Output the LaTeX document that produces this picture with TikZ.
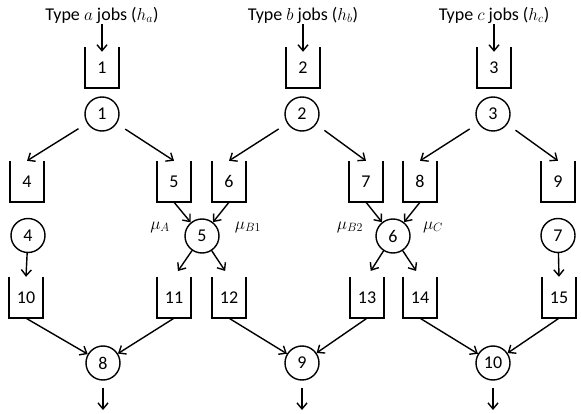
\documentclass[tikz,border=0pt]{standalone}
\usepackage{fontspec}
\setmainfont{Carlito}
\usetikzlibrary{arrows.meta}
\begin{document}
\begin{tikzpicture}[x=1pt,y=-1pt,
  txt/.style={font=\fontsize{18}{21}\selectfont},
  buf/.style={txt, minimum width=34pt, minimum height=41pt, inner sep=0pt},
  srv/.style={txt, circle, draw, line width=1.4pt, minimum size=34pt, inner sep=0pt},
  lbl/.style={txt, inner sep=1pt},
  arr/.style={-{Straight Barb[length=6pt,width=10pt]}, line width=1.4pt},
  bufline/.style={line width=1.5pt}]
\useasboundingbox (0,0) rectangle (581,414);
% titles
\node[lbl] (ta) at (102,15) {Type $a$ jobs ($h_a$)};
\node[lbl] (tb) at (303,15) {Type $b$ jobs ($h_b$)};
\node[lbl] (tc) at (494,15) {Type $c$ jobs ($h_c$)};
% buffers
\node[buf] (b1) at (102,67.5) {1};
\node[buf] (b2) at (303,67.5) {2};
\node[buf] (b3) at (494,67.5) {3};
\node[buf] (b4) at (27,181.5) {4};
\node[buf] (b5) at (174,181.5) {5};
\node[buf] (b6) at (229,181.5) {6};
\node[buf] (b7) at (366,181.5) {7};
\node[buf] (b8) at (420,181.5) {8};
\node[buf] (b9) at (558,181.5) {9};
\node[buf] (b10) at (26,297.5) {10};
\node[buf] (b11) at (174,297.5) {11};
\node[buf] (b12) at (229,297.5) {12};
\node[buf] (b13) at (367,297.5) {13};
\node[buf] (b14) at (420,297.5) {14};
\node[buf] (b15) at (559,297.5) {15};
\foreach \b in {b1,b2,b3,b4,b5,b6,b7,b8,b9,b10,b11,b12,b13,b14,b15}
  \draw[bufline] (\b.north west) -- (\b.south west) -- (\b.south east) -- (\b.north east);
% servers
\node[srv] (s1) at (102,114) {1};
\node[srv] (s2) at (302,114) {2};
\node[srv] (s3) at (493,114) {3};
\node[srv] (s4) at (28,235.5) {4};
\node[srv] (s5) at (202,236) {5};
\node[srv] (s6) at (393,236) {6};
\node[srv] (s7) at (558,235.5) {7};
\node[srv] (s8) at (103,363) {8};
\node[srv] (s9) at (302,363) {9};
\node[srv] (s10) at (493,363) {10};
% rate labels
\node[lbl] (mA) at (160,227) {$\mu_A$};
\node[lbl] (mB1) at (248,227) {$\mu_{B1}$};
\node[lbl] (mB2) at (350,227) {$\mu_{B2}$};
\node[lbl] (mC) at (433,227) {$\mu_C$};
% output coordinates
\coordinate (o8) at (103,410);
\coordinate (o9) at (302,410);
\coordinate (o10) at (493,410);
% arrows
\draw[arr] (ta.south) -- ([yshift=-5pt]b1.north);
\draw[arr] (tb.south) -- ([yshift=-5pt]b2.north);
\draw[arr] (tc.south) -- ([yshift=-5pt]b3.north);
\draw[arr, shorten <=10pt] (s1) -- (b4.north);
\draw[arr, shorten <=10pt] (s1) -- (b5.north);
\draw[arr, shorten <=10pt] (s2) -- (b6.north);
\draw[arr, shorten <=10pt] (s2) -- (b7.north);
\draw[arr, shorten <=10pt] (s3) -- (b8.north);
\draw[arr, shorten <=10pt] (s3) -- (b9.north);
\draw[arr] (b5.south) -- (s5);
\draw[arr] (b6.south) -- (s5);
\draw[arr] (b7.south) -- (s6);
\draw[arr] (b8.south) -- (s6);
\draw[arr] (s4) -- (b10.north);
\draw[arr] (s7) -- (b15.north);
\draw[arr, shorten >=7pt] (s5) -- (b11.north);
\draw[arr, shorten >=7pt] (s5) -- (b12.north);
\draw[arr, shorten >=7pt] (s6) -- (b13.north);
\draw[arr, shorten >=7pt] (s6) -- (b14.north);
\draw[arr] (b10.south) -- (s8);
\draw[arr] (b11.south) -- (s8);
\draw[arr] (b12.south) -- (s9);
\draw[arr] (b13.south) -- (s9);
\draw[arr] (b14.south) -- (s10);
\draw[arr] (b15.south) -- (s10);
\draw[arr, shorten <=7pt] (s8) -- (o8);
\draw[arr, shorten <=7pt] (s9) -- (o9);
\draw[arr, shorten <=7pt] (s10) -- (o10);
\end{tikzpicture}
\end{document}
